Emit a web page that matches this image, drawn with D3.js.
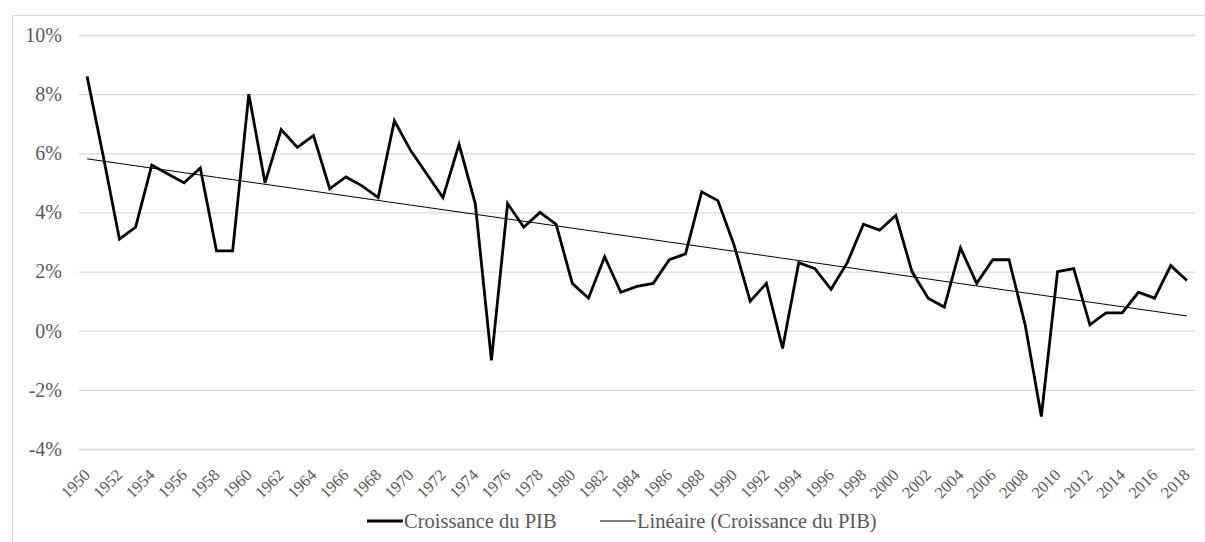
<!DOCTYPE html>
<html>
<head>
<meta charset="utf-8">
<script src="https://cdn.jsdelivr.net/npm/d3@7"></script>
<style>
  body { margin: 0; background: #fff; }
  svg text { font-family: 'Liberation Serif', 'Times New Roman', Times, serif; }
</style>
</head>
<body>
<div class="container"></div>
<script>
const width = 1205,
    height = 542;

// France, croissance annuelle du PIB (%)
const years = d3.range(1950, 2019);
const growth = [
    8.6, 5.9, 3.1, 3.5, 5.6, 5.3, 5.0, 5.5, 2.7, 2.7,
    8.0, 5.0, 6.8, 6.2, 6.6, 4.8, 5.2, 4.9, 4.5, 7.1,
    6.1, 5.3, 4.5, 6.3, 4.3, -1.0, 4.3, 3.5, 4.0, 3.6,
    1.6, 1.1, 2.5, 1.3, 1.5, 1.6, 2.4, 2.6, 4.7, 4.4,
    2.9, 1.0, 1.6, -0.6, 2.3, 2.1, 1.4, 2.3, 3.6, 3.4,
    3.9, 2.0, 1.1, 0.8, 2.8, 1.6, 2.4, 2.4, 0.2, -2.9,
    2.0, 2.1, 0.2, 0.6, 0.6, 1.3, 1.1, 2.2, 1.7
];
const yTicks = [-4, -2, 0, 2, 4, 6, 8, 10];
const xTicks = years.filter(y => y % 2 === 0);
const seriesName = 'Croissance du PIB';
const trendName = 'Linéaire (Croissance du PIB)';

const data = years.map((y, i) => ({ year: y, value: growth[i] }));

// droite de tendance linéaire (moindres carrés)
const mi = d3.mean(data, (d, i) => i),
    mv = d3.mean(data, d => d.value);
const slope = d3.sum(data, (d, i) => (i - mi) * (d.value - mv)) / d3.sum(data, (d, i) => (i - mi) * (i - mi));
const trend = data.map((d, i) => ({ year: d.year, value: mv + slope * (i - mi) }));

const svg = d3.select('.container')
    .append('svg')
    .attr('width', width)
    .attr('height', height);

// cadre du graphique
svg.append('rect')
    .attr('x', 12.5)
    .attr('y', 15.5)
    .attr('width', 1300)
    .attr('height', 600)
    .attr('fill', 'none')
    .attr('stroke', '#d9d9d9');

const x = d3.scaleBand()
    .domain(years)
    .range([79, 1195]);

const y = d3.scaleLinear()
    .domain([-4, 10])
    .range([449, 35]);

const cx = d => x(d) + x.bandwidth() / 2;

const yAxis = svg.append('g')
    .attr('transform', 'translate(79,0)')
    .call(d3.axisLeft(y)
        .tickValues(yTicks)
        .tickSize(-(1195 - 79))
        .tickPadding(17)
        .tickFormat(d => d + '%'));
yAxis.attr('font-family', null);
yAxis.select('.domain').remove();
yAxis.selectAll('line').attr('stroke', '#d9d9d9').attr('stroke-width', 1.3);
yAxis.selectAll('text')
    .attr('fill', '#595959')
    .style('font-size', '20px');

const xAxis = svg.append('g')
    .attr('transform', 'translate(0,449)')
    .call(d3.axisBottom(x)
        .tickValues(xTicks)
        .tickSize(0));
xAxis.attr('font-family', null);
xAxis.select('.domain').remove();
xAxis.selectAll('text')
    .attr('fill', '#595959')
    .style('font-size', '16.5px')
    .attr('text-anchor', 'end')
    .attr('dy', null)
    .attr('y', null)
    .attr('transform', 'translate(4,27) rotate(-45)');

const line = d3.line()
    .x(d => cx(d.year))
    .y(d => y(d.value));

svg.append('path')
    .datum(trend)
    .attr('d', line)
    .attr('fill', 'none')
    .attr('stroke', '#000')
    .attr('stroke-width', 1);

svg.append('path')
    .datum(data)
    .attr('d', line)
    .attr('fill', 'none')
    .attr('stroke', '#000')
    .attr('stroke-width', 2.8)
    .attr('stroke-linejoin', 'miter');

// légende
const legend = svg.append('g')
    .attr('id', 'legend')
    .attr('transform', 'translate(0,521)');

const items = [
    { name: seriesName, x: 367, w: 2.8 },
    { name: trendName, x: 600, w: 1 }
];

items.forEach(it => {
    legend.append('line')
        .attr('x1', it.x)
        .attr('x2', it.x + 36)
        .attr('y1', 0)
        .attr('y2', 0)
        .attr('stroke', '#000')
        .attr('stroke-width', it.w);
    legend.append('text')
        .attr('x', it.x + 37)
        .attr('y', 0)
        .attr('dy', '0.35em')
        .attr('fill', '#595959')
        .style('font-size', '20.5px')
        .text(it.name);
});
</script>
</body>
</html>
